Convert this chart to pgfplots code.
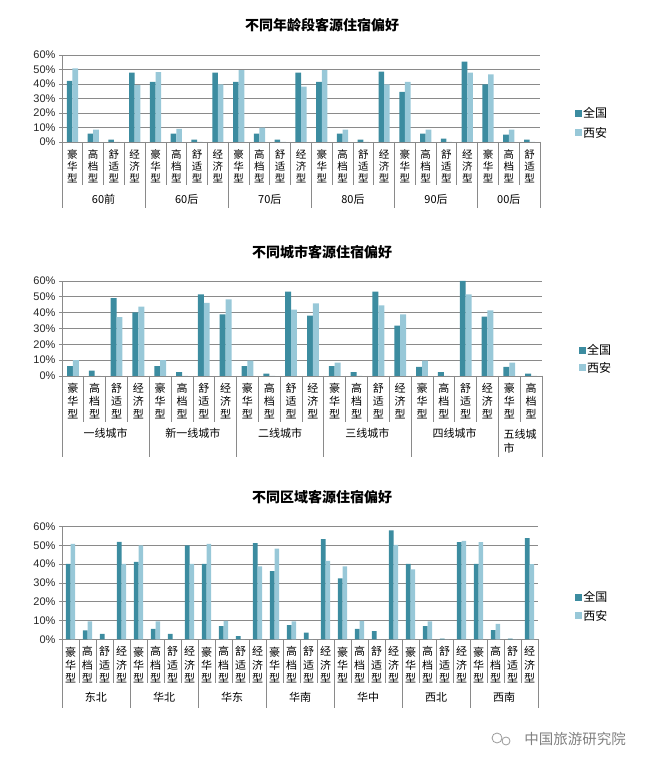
\documentclass[border=0pt]{standalone}
\usepackage{fontspec}
\usepackage{pgfplots}
\pgfplotsset{compat=1.18}
\setmainfont{Noto Sans CJK SC}
\newfontfamily\numfont{Liberation Sans}
\definecolor{qg}{RGB}{60,140,160}
\definecolor{xa}{RGB}{152,200,216}
\definecolor{gridc}{RGB}{138,138,138}
\newcommand\vt[3]{\begin{tabular}{@{}c@{}}#1\\#2\\#3\end{tabular}}
\def\HH{\vt{豪}{华}{型}}
\def\GD{\vt{高}{档}{型}}
\def\SS{\vt{舒}{适}{型}}
\def\JJ{\vt{经}{济}{型}}
\pgfplotsset{
  panel/.style={
    scale only axis, ybar=0pt, bar width=0.27,
    ymin=0, ymax=60, ytick={0,10,...,60},
    yticklabels={0\%,10\%,20\%,30\%,40\%,50\%,60\%},
    axis x line*=bottom, axis y line*=left,
    ymajorgrids, grid style={draw=gridc, line width=0.8pt},
    axis line style={draw=gridc, line width=0.8pt},
    xtick style={draw=none}, ytick style={draw=gridc, line width=0.8pt},
    major tick length=3pt, tick align=outside,
    enlargelimits=false, clip=false,
    yticklabel style={font=\numfont\fontsize{11}{11}\selectfont, text=black!85},
    xticklabel style={anchor=north, inner sep=0pt, yshift=-4pt},
    legend cell align=left,
  },
  lgsq/.style={legend image code/.code={\fill[##1] (0pt,-3.5pt) rectangle (7pt,3.5pt);}},
  s1/.style={fill=qg, draw=none, lgsq},
  s2/.style={fill=xa, draw=none, lgsq},
}
\begin{document}
\begin{tikzpicture}
\path[use as bounding box] (0pt,0pt) rectangle (650pt,770pt);
% titles
\node[font=\bfseries\fontsize{14}{14}\selectfont] at (322pt,745pt) {不同年龄段客源住宿偏好};
\node[font=\bfseries\fontsize{14}{14}\selectfont] at (322pt,518pt) {不同城市客源住宿偏好};
\node[font=\bfseries\fontsize{14}{14}\selectfont] at (322pt,273pt) {不同区域客源住宿偏好};
% ---------------- Panel 1 ----------------
\begin{axis}[panel, at={(62pt,628pt)}, anchor=south west, width=478pt, height=87pt,
  xmin=-0.5, xmax=22.5, xtick={0,...,22},
  xticklabels={\HH,\GD,\SS,\JJ,\HH,\GD,\SS,\JJ,\HH,\GD,\SS,\JJ,\HH,\GD,\SS,\JJ,\HH,\GD,\SS,\JJ,\HH,\GD,\SS},
  xticklabel style={font=\fontsize{10.5}{12}\selectfont},
  legend style={at={(1.073,0.218)}, anchor=west, draw=none, fill=none,
    font=\fontsize{12}{12}\selectfont, row sep=6pt, inner sep=0pt, nodes={inner sep=1pt}},
]
\addplot[s1] coordinates {(0,42.2)(1,5.8)(2,1.6)(3,47.8)(4,41.5)(5,5.8)(6,1.6)(7,47.8)(8,41.5)(9,5.8)(10,1.6)(11,47.8)(12,41.5)(13,5.8)(14,1.6)(15,48.5)(16,34.6)(17,5.8)(18,2.3)(19,55.4)(20,39.7)(21,5.1)(22,1.6)};
\addplot[s2] coordinates {(0,50.8)(1,8.5)(2,0)(3,39.2)(4,48.2)(5,9.0)(6,0)(7,39.7)(8,49.6)(9,9.9)(10,0)(11,38.1)(12,49.6)(13,8.5)(14,0)(15,39.7)(16,41.5)(17,8.5)(18,0)(19,47.8)(20,46.6)(21,8.5)(22,0)};
\legend{全国,西安}
\pgfplotsinvokeforeach{-0.5,0.5,...,22.5}{\draw[gridc, line width=0.8pt] (axis cs:#1,0) -- ++(0pt,-43pt);}
\pgfplotsinvokeforeach{-0.5,3.5,7.5,11.5,15.5,19.5,22.5}{\draw[gridc, line width=0.8pt] (axis cs:#1,0) -- ++(0pt,-66pt);}
\node[font=\fontsize{11}{11}\selectfont] at (axis cs:1.5,0) [yshift=-57pt] {60前};
\node[font=\fontsize{11}{11}\selectfont] at (axis cs:5.5,0) [yshift=-57pt] {60后};
\node[font=\fontsize{11}{11}\selectfont] at (axis cs:9.5,0) [yshift=-57pt] {70后};
\node[font=\fontsize{11}{11}\selectfont] at (axis cs:13.5,0) [yshift=-57pt] {80后};
\node[font=\fontsize{11}{11}\selectfont] at (axis cs:17.5,0) [yshift=-57pt] {90后};
\node[font=\fontsize{11}{11}\selectfont] at (axis cs:21,0) [yshift=-57pt] {00后};
\end{axis}
% ---------------- Panel 2 ----------------
\begin{axis}[panel, at={(62pt,394pt)}, anchor=south west, width=480pt, height=95pt,
  xmin=-0.5, xmax=21.5, xtick={0,...,21},
  xticklabels={\HH,\GD,\SS,\JJ,\HH,\GD,\SS,\JJ,\HH,\GD,\SS,\JJ,\HH,\GD,\SS,\JJ,\HH,\GD,\SS,\JJ,\HH,\GD},
  xticklabel style={font=\fontsize{11}{12.7}\selectfont},
  legend style={at={(1.077,0.179)}, anchor=west, draw=none, fill=none,
    font=\fontsize{12}{12}\selectfont, row sep=4pt, inner sep=0pt, nodes={inner sep=1pt}},
]
\addplot[s1] coordinates {(0,6.3)(1,3.4)(2,49.1)(3,40.2)(4,6.3)(5,2.5)(6,51.6)(7,38.9)(8,6.3)(9,1.5)(10,53.3)(11,38.1)(12,6.3)(13,2.5)(14,53.3)(15,31.8)(16,5.7)(17,2.5)(18,60)(19,37.5)(20,5.7)(21,1.5)};
\addplot[s2] coordinates {(0,10.1)(1,0)(2,37.1)(3,43.8)(4,10.1)(5,0)(6,46.1)(7,48.4)(8,9.7)(9,0)(10,41.9)(11,45.9)(12,8.4)(13,0)(14,44.6)(15,38.9)(16,9.7)(17,0)(18,51.6)(19,41.5)(20,8.4)(21,0)};
\legend{全国,西安}
\pgfplotsinvokeforeach{-0.5,0.5,...,21.5}{\draw[gridc, line width=0.8pt] (axis cs:#1,0) -- ++(0pt,-46pt);}
\pgfplotsinvokeforeach{-0.5,3.5,7.5,11.5,15.5,19.5,21.5}{\draw[gridc, line width=0.8pt] (axis cs:#1,0) -- ++(0pt,-81pt);}
\node[font=\fontsize{11}{11}\selectfont] at (axis cs:1.5,0) [yshift=-57pt] {一线城市};
\node[font=\fontsize{11}{11}\selectfont] at (axis cs:5.5,0) [yshift=-57pt] {新一线城市};
\node[font=\fontsize{11}{11}\selectfont] at (axis cs:9.5,0) [yshift=-57pt] {二线城市};
\node[font=\fontsize{11}{11}\selectfont] at (axis cs:13.5,0) [yshift=-57pt] {三线城市};
\node[font=\fontsize{11}{11}\selectfont] at (axis cs:17.5,0) [yshift=-57pt] {四线城市};
\node[font=\fontsize{11}{14}\selectfont, align=left, anchor=north] at (axis cs:20.5,0) [yshift=-50pt] {五线城\\市};
\end{axis}
% ---------------- Panel 3 ----------------
\begin{axis}[panel, at={(62pt,130.5pt)}, anchor=south west, width=476pt, height=113pt,
  xmin=-0.5, xmax=27.5, xtick={0,...,27},
  xticklabels={\HH,\GD,\SS,\JJ,\HH,\GD,\SS,\JJ,\HH,\GD,\SS,\JJ,\HH,\GD,\SS,\JJ,\HH,\GD,\SS,\JJ,\HH,\GD,\SS,\JJ,\HH,\GD,\SS,\JJ},
  xticklabel style={font=\fontsize{11}{13}\selectfont},
  legend style={at={(1.078,0.292)}, anchor=west, draw=none, fill=none,
    font=\fontsize{12}{12}\selectfont, row sep=5pt, inner sep=0pt, nodes={inner sep=1pt}},
]
\addplot[s1] coordinates {(0,40.2)(1,4.8)(2,3.0)(3,51.9)(4,41.2)(5,5.7)(6,3.0)(7,50.0)(8,40.2)(9,7.1)(10,1.8)(11,51.2)(12,36.3)(13,7.6)(14,3.7)(15,53.3)(16,32.4)(17,5.7)(18,4.4)(19,57.9)(20,40.2)(21,7.1)(22,0.5)(23,51.7)(24,40.2)(25,5.0)(26,0.5)(27,53.8)};
\addplot[s2] coordinates {(0,50.8)(1,9.6)(2,0)(3,40.2)(4,50.0)(5,9.6)(6,0)(7,40.2)(8,50.8)(9,9.9)(10,0)(11,38.8)(12,48.3)(13,9.6)(14,0)(15,41.8)(16,38.8)(17,9.9)(18,0)(19,50.3)(20,37.2)(21,9.6)(22,0)(23,52.4)(24,51.7)(25,8.3)(26,0)(27,40.0)};
\legend{全国,西安}
\pgfplotsinvokeforeach{-0.5,0.5,...,27.5}{\draw[gridc, line width=0.8pt] (axis cs:#1,0) -- ++(0pt,-44pt);}
\pgfplotsinvokeforeach{-0.5,3.5,7.5,11.5,15.5,19.5,23.5,27.5}{\draw[gridc, line width=0.8pt] (axis cs:#1,0) -- ++(0pt,-68pt);}
\node[font=\fontsize{11}{11}\selectfont] at (axis cs:1.5,0) [yshift=-58pt] {东北};
\node[font=\fontsize{11}{11}\selectfont] at (axis cs:5.5,0) [yshift=-58pt] {华北};
\node[font=\fontsize{11}{11}\selectfont] at (axis cs:9.5,0) [yshift=-58pt] {华东};
\node[font=\fontsize{11}{11}\selectfont] at (axis cs:13.5,0) [yshift=-58pt] {华南};
\node[font=\fontsize{11}{11}\selectfont] at (axis cs:17.5,0) [yshift=-58pt] {华中};
\node[font=\fontsize{11}{11}\selectfont] at (axis cs:21.5,0) [yshift=-58pt] {西北};
\node[font=\fontsize{11}{11}\selectfont] at (axis cs:25.5,0) [yshift=-58pt] {西南};
\end{axis}
% watermark
\node[text=black!50, font=\fontsize{14.5}{14.5}\selectfont] at (575pt,31pt) {中国旅游研究院};
\draw[black!40, line width=0.8pt] (497pt,32pt) circle (5pt);
\draw[black!40, line width=0.8pt] (506pt,29pt) circle (4pt);
\end{tikzpicture}
\end{document}
